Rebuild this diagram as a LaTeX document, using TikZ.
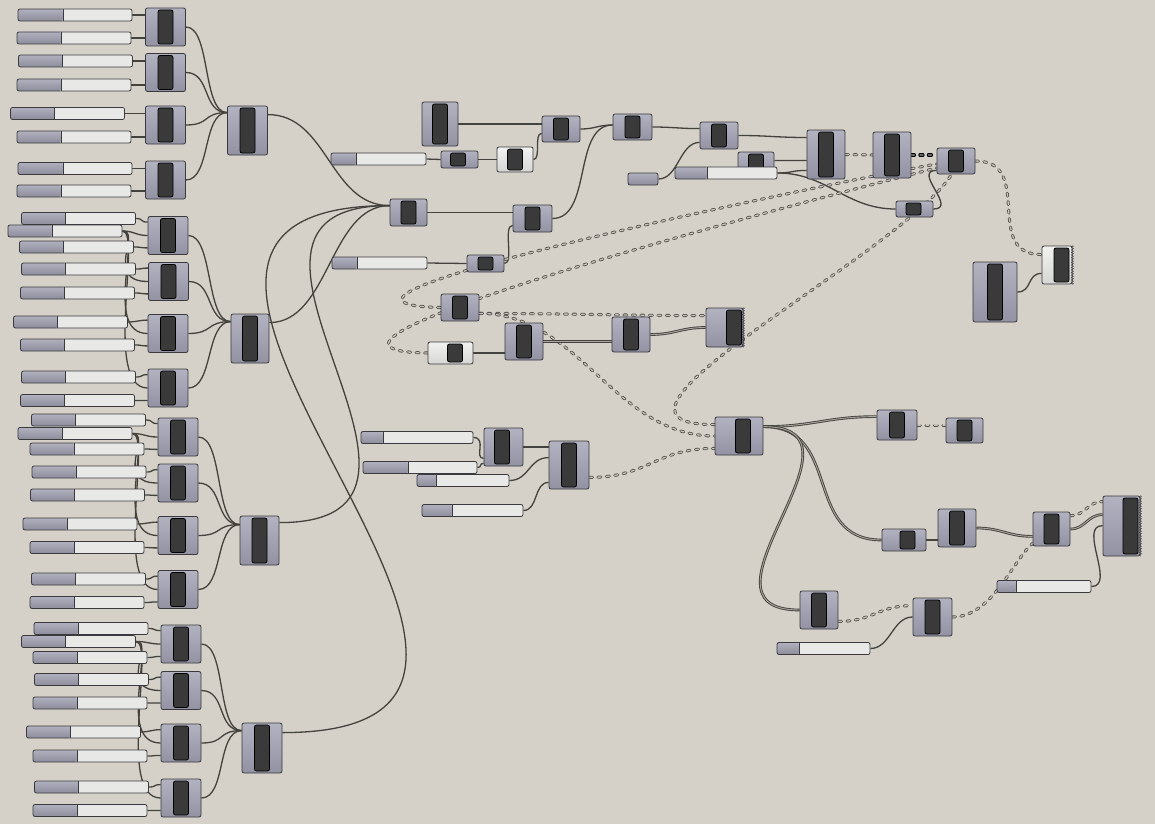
\documentclass[tikz,border=0pt]{standalone}
\usepackage{xcolor}
\usepackage{tikz}
\usetikzlibrary{positioning,calc,backgrounds,decorations.pathmorphing}

\definecolor{canvas}{RGB}{213,209,201}
\definecolor{comptop}{RGB}{178,178,193}
\definecolor{compbot}{RGB}{146,146,163}
\definecolor{paletop}{RGB}{242,242,240}
\definecolor{palebot}{RGB}{214,214,212}
\definecolor{edgegray}{RGB}{58,58,62}
\definecolor{bargray}{RGB}{58,58,58}
\definecolor{track}{RGB}{232,232,230}
\definecolor{knobtop}{RGB}{176,176,190}
\definecolor{knobbot}{RGB}{140,140,156}
\definecolor{wiregray}{RGB}{68,66,60}
\definecolor{listfill}{RGB}{170,168,160}
\definecolor{treeedge}{RGB}{78,76,70}
\definecolor{treefill}{RGB}{200,198,190}

\begin{document}
\begin{tikzpicture}[
  x=1pt, y=-1pt,
  comp/.style={rectangle, rounded corners=2pt, draw=edgegray, line width=0.8pt, top color=comptop, bottom color=compbot,
    inner sep=0pt, minimum width=40pt, minimum height=38pt,
    path picture={\draw[draw=black, line width=0.8pt, fill=bargray, rounded corners=2pt]
      ([xshift=#1pt-7.5pt, yshift=-2pt]path picture bounding box.north) rectangle ([xshift=#1pt+7.5pt, yshift=2pt]path picture bounding box.south);}},
  comp/.default=0,
  pale/.style={top color=paletop, bottom color=palebot},
  slider/.style={rectangle, rounded corners=2pt, draw=edgegray, line width=0.8pt, fill=track, inner sep=0pt,
    minimum width=114pt, minimum height=12pt,
    path picture={\shade[top color=knobtop, bottom color=knobbot] (path picture bounding box.south west) rectangle ([xshift=#1pt]path picture bounding box.north west);
      \draw[edgegray, line width=0.8pt] ([xshift=#1pt]path picture bounding box.south west) -- ([xshift=#1pt]path picture bounding box.north west);}},
  slider/.default=44,
  grip/.style={edgegray, line width=0.5pt, decorate, decoration={zigzag, segment length=2.5pt, amplitude=1pt}},
  wire/.style={draw=wiregray, line width=1.3pt},
  listwire/.style={draw=wiregray, line width=0.9pt, double=listfill, double distance=0.9pt},
  tree/.style={draw=treeedge, line width=3pt, line cap=round, dash pattern=on 3pt off 5.5pt,
    postaction={draw=treefill, line width=1.3pt, line cap=round, dash pattern=on 3pt off 5.5pt}},
  treedark/.style={draw=black, line width=3.3pt, line cap=round, dash pattern=on 3pt off 5.5pt,
    postaction={draw=black!60, line width=1.3pt, line cap=round, dash pattern=on 3pt off 5.5pt}}
]

\useasboundingbox (0,0) rectangle (1155,824);

% first group of sliders
\node[slider=45] (s1) at (75,15) {};
\node[slider] (s2) at (74,38) {};
\node[slider] (s3) at (75.5,61) {};
\node[slider] (s4) at (74,85) {};
\node[slider] (s5) at (67.5,113.5) {};
\node[slider] (s6) at (74,137) {};
\node[slider=45] (s7) at (75,168.5) {};
\node[slider] (s8) at (74,191) {};
\node[comp] (a1) at (165.5,27) {};
\node[comp] (a2) at (165.5,72.5) {};
\node[comp] (a3) at (165.5,125) {};
\node[comp] (a4) at (165.5,180) {};
\node[comp, minimum height=49pt] (a5) at (247.5,130.5) {};

% second group
\node[slider] (t1) at (78.5,218.5) {};
\node[slider] (t2) at (65,231) {};
\node[slider] (t3) at (76.5,247) {};
\node[slider] (t4) at (78.5,269) {};
\node[slider] (t5) at (77.5,293) {};
\node[slider] (t6) at (70.5,322) {};
\node[slider] (t7) at (77.5,345) {};
\node[slider] (t8) at (78.5,377) {};
\node[slider] (t9) at (77.5,400.5) {};
\node[comp] (c1) at (168,235.5) {};
\node[comp] (c2) at (168.5,281.5) {};
\node[comp] (c3) at (168,333.5) {};
\node[comp] (c4) at (168,388) {};
\node[comp, minimum width=38pt, minimum height=49pt] (c5) at (250,338.5) {};

% third group
\node[slider] (u1) at (88.5,420) {};
\node[slider] (u2) at (75,433.5) {};
\node[slider] (u3) at (87,449) {};
\node[slider] (u4) at (89,472) {};
\node[slider] (u5) at (87.5,495) {};
\node[slider] (u6) at (80,524) {};
\node[slider] (u7) at (87,547.5) {};
\node[slider] (u8) at (88.5,579) {};
\node[slider] (u9) at (87,602.5) {};
\node[comp] (d1) at (178,437) {};
\node[comp] (d2) at (178,483) {};
\node[comp] (d3) at (178,535.5) {};
\node[comp] (d4) at (178,589.5) {};
\node[comp, minimum width=39pt, minimum height=49pt] (d5) at (259.5,540.5) {};

% fourth group
\node[slider] (v1) at (91,628.5) {};
\node[slider] (v2) at (78.5,641.5) {};
\node[slider] (v3) at (90,657.5) {};
\node[slider] (v4) at (91.5,679.5) {};
\node[slider] (v5) at (90,703) {};
\node[slider] (v6) at (83.5,732) {};
\node[slider] (v7) at (90,756) {};
\node[slider] (v8) at (91.5,787) {};
\node[slider] (v9) at (90,810.5) {};
\node[comp] (e1) at (181,644) {};
\node[comp] (e2) at (181,690.5) {};
\node[comp] (e3) at (181,743) {};
\node[comp] (e4) at (181,798) {};
\node[comp, minimum height=50pt] (e5) at (262,748) {};

% top row
\node[comp, minimum width=36pt, minimum height=44pt] (f1) at (440,124) {};
\node[slider=25, minimum width=95pt] (g1) at (378.5,159) {};
\node[comp=-1.5, minimum width=37pt, minimum height=17pt] (f2) at (459.5,159.5) {};
\node[comp, pale, minimum width=36pt, minimum height=25pt] (f3) at (515,159.5) {};
\node[comp, minimum width=38pt, minimum height=26pt] (f4) at (561,129) {};
\node[comp, minimum width=37pt, minimum height=27pt] (b1) at (408.5,212.5) {};
\node[comp, minimum width=39pt, minimum height=27pt] (f5) at (532.5,218.5) {};
\node[slider=25, minimum width=95pt] (g2) at (379.5,263) {};
\node[comp, minimum width=37pt, minimum height=17pt] (f6) at (485.5,263.5) {};
\node[comp, minimum width=39pt, minimum height=26pt] (f7) at (632.5,127) {};
\node[comp, minimum width=38pt, minimum height=27pt] (f8) at (719,135.5) {};
\node[comp, minimum width=36pt, minimum height=24pt] (f9) at (756,164) {};
\node[slider=30, minimum width=30pt] (g3) at (643,179) {};
\node[slider=32, minimum width=102pt] (g4) at (726,173) {};
\node[comp, minimum width=38pt, minimum height=49pt] (f10) at (826,154.5) {};
\node[comp, minimum width=38pt, minimum height=46pt] (f11) at (892,155) {};
\node[comp, minimum width=38pt, minimum height=26pt] (f12) at (956,161) {};
\node[comp=-1, minimum width=37pt, minimum height=16pt] (f13) at (914.5,209) {};
\node[comp=4.5, pale, minimum width=30pt] (f14) at (1057,265) {};
\node[comp, minimum width=44pt, minimum height=60pt] (f15) at (995,292) {};

% middle
\node[comp, minimum width=38pt, minimum height=27pt] (k1) at (460,307.5) {};
\node[comp=4.5, pale, minimum width=45pt, minimum height=22pt] (k2) at (450.5,353) {};
\node[comp, minimum width=38pt, minimum height=37pt] (k3) at (524,341.5) {};
\node[comp, minimum width=38pt, minimum height=35pt] (k4) at (631,334.5) {};
\node[comp=9.5, minimum width=37pt, minimum height=39pt] (k5) at (724.5,327.5) {};
\node[comp=4, minimum width=48pt] (h1) at (739,436) {};
\node[slider=22, minimum width=112pt] (g7) at (417,437.5) {};
\node[slider=45] (g8) at (420,467.5) {};
\node[slider=19, minimum width=92pt] (g9) at (463,480.5) {};
\node[slider=30, minimum width=101pt] (g10) at (472.5,510.5) {};
\node[comp=-1.5, minimum width=39pt] (m1) at (503.5,447) {};
\node[comp, minimum height=48pt] (m2) at (569,465) {};

% bottom right
\node[comp, minimum height=30pt] (l1) at (897,425) {};
\node[comp, minimum width=37pt, minimum height=25pt] (l2) at (964.5,430.5) {};
\node[comp=3.5, minimum width=44pt, minimum height=22pt] (l3) at (904,540) {};
\node[comp, minimum width=38pt] (l4) at (957,528) {};
\node[comp, minimum width=37pt, minimum height=34pt] (l5) at (1051.5,529) {};
\node[comp=9, minimum width=37pt, minimum height=60pt] (l6) at (1121.5,526) {};
\node[slider=19, minimum width=94pt] (g5) at (1044,586.5) {};
\node[comp, minimum width=38pt] (l7) at (819,610) {};
\node[comp, minimum width=39pt] (l8) at (932.5,617) {};
\node[slider=22, minimum width=93pt] (g6) at (823.5,648.5) {};

\draw[grip] (f14.north east) -- (f14.south east);
\draw[grip] (k5.north east) -- (k5.south east);
\draw[grip] (l6.north east) -- (l6.south east);

\begin{scope}[on background layer]
\fill[canvas] (0,0) rectangle (1155,824);

% first group wires
\draw[wire] (s1.east) -- (a1.west |- s1.east);
\draw[wire] (s2.east) -- (a1.west |- s2.east);
\draw[wire] (s3.east) -- (a2.west |- s3.east);
\draw[wire] (s4.east) -- (a2.west |- s4.east);
\draw[wire] (s5.east) -- (a3.west |- s5.east);
\draw[wire] (s6.east) -- (a3.west |- s6.east);
\draw[wire] (s7.east) -- (a4.west |- s7.east);
\draw[wire] (s8.east) -- (a4.west |- s8.east);
\draw[wire] (a1.east) .. controls +(25,0) and +(-25,0) .. ($(a5.north west)+(0,7)$);
\draw[wire] (a2.east) .. controls +(25,0) and +(-25,0) .. ($(a5.north west)+(0,7)$);
\draw[wire] (a3.east) .. controls +(25,0) and +(-25,0) .. ($(a5.north west)+(0,7)$);
\draw[wire] (a4.east) .. controls +(25,0) and +(-25,0) .. ($(a5.north west)+(0,7)$);

% second group wires
\draw[wire] (t1.east) .. controls +(8,0) and +(-8,0) .. ($(c1.north west)+(0,6)$);
\draw[wire] (t2.east) .. controls +(12,0) and +(-12,0) .. (c1.west);
\draw[wire] (t3.east) .. controls +(8,0) and +(-8,0) .. ($(c1.south west)+(0,-7)$);
\draw[wire] (t4.east) .. controls +(8,0) and +(-8,0) .. ($(c2.north west)+(0,6)$);
\draw[wire] (t2.east) .. controls +(20,0) and +(-45,0) .. (c2.west);
\draw[wire] (t5.east) .. controls +(8,0) and +(-8,0) .. ($(c2.south west)+(0,-7)$);
\draw[wire] (t6.east) .. controls +(8,0) and +(-8,0) .. ($(c3.north west)+(0,6)$);
\draw[wire] (t2.east) .. controls +(20,0) and +(-45,0) .. (c3.west);
\draw[wire] (t7.east) .. controls +(8,0) and +(-8,0) .. ($(c3.south west)+(0,-7)$);
\draw[wire] (t8.east) .. controls +(8,0) and +(-8,0) .. ($(c4.north west)+(0,6)$);
\draw[wire] (t2.east) .. controls +(20,0) and +(-45,0) .. (c4.west);
\draw[wire] (t9.east) .. controls +(8,0) and +(-8,0) .. ($(c4.south west)+(0,-7)$);
\draw[wire] (c1.east) .. controls +(25,0) and +(-25,0) .. ($(c5.north west)+(0,8)$);
\draw[wire] (c2.east) .. controls +(25,0) and +(-25,0) .. ($(c5.north west)+(0,8)$);
\draw[wire] (c3.east) .. controls +(25,0) and +(-25,0) .. ($(c5.north west)+(0,8)$);
\draw[wire] (c4.east) .. controls +(25,0) and +(-25,0) .. ($(c5.north west)+(0,8)$);

% third group wires
\draw[wire] (u1.east) .. controls +(8,0) and +(-8,0) .. ($(d1.north west)+(0,6)$);
\draw[wire] (u2.east) .. controls +(12,0) and +(-12,0) .. (d1.west);
\draw[wire] (u3.east) .. controls +(8,0) and +(-8,0) .. ($(d1.south west)+(0,-7)$);
\draw[wire] (u4.east) .. controls +(8,0) and +(-8,0) .. ($(d2.north west)+(0,6)$);
\draw[wire] (u2.east) .. controls +(20,0) and +(-45,0) .. (d2.west);
\draw[wire] (u5.east) .. controls +(8,0) and +(-8,0) .. ($(d2.south west)+(0,-7)$);
\draw[wire] (u6.east) .. controls +(8,0) and +(-8,0) .. ($(d3.north west)+(0,6)$);
\draw[wire] (u2.east) .. controls +(20,0) and +(-45,0) .. (d3.west);
\draw[wire] (u7.east) .. controls +(8,0) and +(-8,0) .. ($(d3.south west)+(0,-7)$);
\draw[wire] (u8.east) .. controls +(8,0) and +(-8,0) .. ($(d4.north west)+(0,6)$);
\draw[wire] (u2.east) .. controls +(20,0) and +(-45,0) .. (d4.west);
\draw[wire] (u9.east) .. controls +(8,0) and +(-8,0) .. ($(d4.south west)+(0,-7)$);
\draw[wire] (d1.east) .. controls +(25,0) and +(-25,0) .. ($(d5.north west)+(0,9)$);
\draw[wire] (d2.east) .. controls +(25,0) and +(-25,0) .. ($(d5.north west)+(0,9)$);
\draw[wire] (d3.east) .. controls +(25,0) and +(-25,0) .. ($(d5.north west)+(0,9)$);
\draw[wire] (d4.east) .. controls +(25,0) and +(-25,0) .. ($(d5.north west)+(0,9)$);

% fourth group wires
\draw[wire] (v1.east) .. controls +(8,0) and +(-8,0) .. ($(e1.north west)+(0,6)$);
\draw[wire] (v2.east) .. controls +(12,0) and +(-12,0) .. (e1.west);
\draw[wire] (v3.east) .. controls +(8,0) and +(-8,0) .. ($(e1.south west)+(0,-7)$);
\draw[wire] (v4.east) .. controls +(8,0) and +(-8,0) .. ($(e2.north west)+(0,6)$);
\draw[wire] (v2.east) .. controls +(20,0) and +(-45,0) .. (e2.west);
\draw[wire] (v5.east) .. controls +(8,0) and +(-8,0) .. ($(e2.south west)+(0,-7)$);
\draw[wire] (v6.east) .. controls +(8,0) and +(-8,0) .. ($(e3.north west)+(0,6)$);
\draw[wire] (v2.east) .. controls +(20,0) and +(-45,0) .. (e3.west);
\draw[wire] (v7.east) .. controls +(8,0) and +(-8,0) .. ($(e3.south west)+(0,-7)$);
\draw[wire] (v8.east) .. controls +(8,0) and +(-8,0) .. ($(e4.north west)+(0,6)$);
\draw[wire] (v2.east) .. controls +(20,0) and +(-45,0) .. (e4.west);
\draw[wire] (v9.east) .. controls +(8,0) and +(-8,0) .. ($(e4.south west)+(0,-7)$);
\draw[wire] (e1.east) .. controls +(25,0) and +(-25,0) .. ($(e5.north west)+(0,8)$);
\draw[wire] (e2.east) .. controls +(25,0) and +(-25,0) .. ($(e5.north west)+(0,8)$);
\draw[wire] (e3.east) .. controls +(25,0) and +(-25,0) .. ($(e5.north west)+(0,8)$);
\draw[wire] (e4.east) .. controls +(25,0) and +(-25,0) .. ($(e5.north west)+(0,8)$);

% groups into b1
\draw[wire] ($(a5.north east)+(0,9)$) .. controls +(60,0) and +(-60,0) .. ($(b1.north west)+(0,7)$);
\draw[wire] ($(c5.north east)+(0,9)$) .. controls +(60,0) and +(-60,0) .. ($(b1.north west)+(0,7)$);
\draw[wire] ($(d5.north east)+(0,7)$) .. controls +(220,0) and +(-220,0) .. ($(b1.north west)+(0,7)$);
\draw[wire] ($(e5.north east)+(0,10)$) .. controls +(380,0) and +(-380,0) .. ($(b1.north west)+(0,7)$);

% top row wires
\draw[wire] (f1.east) -- (f4.west |- f1.east);
\draw[wire] (g1.east) -- (f2.west);
\draw[wire] (f2.east) -- (f3.west);
\draw[wire] (f3.east) .. controls +(8,0) and +(-8,0) .. ($(f4.south west)+(0,-9)$);
\draw[wire] (b1.east) -- (f5.west |- b1.east);
\draw[wire] (g2.east) -- (f6.west);
\draw[wire] (f6.east) .. controls +(10,0) and +(-10,0) .. ($(f5.south west)+(0,-7)$);
\draw[wire] (f4.east) .. controls +(15,0) and +(-15,0) .. ($(f7.west)+(0,-2)$);
\draw[wire] (f5.east) .. controls +(40,0) and +(-40,0) .. ($(f7.west)+(0,-2)$);
\draw[wire] (f7.east) .. controls +(20,0) and +(-20,0) .. ($(f8.north west)+(0,7)$);
\draw[wire] (g3.east) .. controls +(20,0) and +(-20,0) .. ($(f8.south west)+(0,-7)$);
\draw[wire] (f8.east) .. controls +(30,0) and +(-30,0) .. ($(f10.west)+(0,-17)$);
\draw[wire] ($(f9.north east)+(0,9)$) -- ($(f10.west)+(0,6)$);
\draw[wire] (g4.east) .. controls +(15,0) and +(-15,0) .. ($(f10.south west)+(0,-9)$);
\draw[wire] (g4.east) .. controls +(50,0) and +(-50,0) .. (f13.west);
\draw[tree] (f10.east) -- (f11.west);
\draw[treedark] (f11.east) -- (f12.west |- f11.east);
\draw[wire] (f13.east) .. controls +(25,0) and +(-25,0) .. ($(f12.south west)+(0,-4)$);
\draw[tree] (f12.east) .. controls +(60,0) and +(-60,0) .. ($(f14.north west)+(0,9)$);
\draw[wire] (f15.east) .. controls +(15,0) and +(-15,0) .. ($(f14.south west)+(0,-11)$);

% middle wires
\draw[tree] (k1.west) .. controls +(-200,-5) and +(-60,10) .. ($(f12.west)+(0,3)$);
\draw[tree] (k2.west) .. controls +(-200,-3) and +(-80,20) .. ($(f12.west)+(0,7)$);
\draw[tree] ($(k1.south east)+(0,-8)$) .. controls +(80,0) and +(-80,0) .. ($(k5.north west)+(0,8)$);
\draw[tree] ($(k1.south east)+(0,-8)$) .. controls +(100,0) and +(-100,0) .. (h1.west);
\draw[tree] ($(h1.north west)+(0,8)$) .. controls +(-155,0) and +(-50,80) .. ($(f12.south west)+(15,0)$);
\draw[wire] (k2.east) -- (k3.west |- k2.east);
\draw[listwire] (k3.east) -- (k4.west |- k3.east);
\draw[listwire] (k4.east) .. controls +(25,0) and +(-25,0) .. (k5.west);
\draw[wire] (g7.east) .. controls +(14,0) and +(-10,0) .. ($(m1.south west)+(0,-8)$);
\draw[wire] (g8.east) .. controls +(5,0) and +(-5,0) .. ($(m1.south west)+(0,-3)$);
\draw[wire] (m1.east) -- (m2.west |- m1.east);
\draw[wire] (g9.east) .. controls +(20,0) and +(-20,0) .. ($(m2.north west)+(0,17)$);
\draw[wire] (g10.east) .. controls +(15,0) and +(-15,0) .. ($(m2.south west)+(0,-7)$);
\draw[tree] ($(m2.south east)+(0,-12)$) .. controls +(60,0) and +(-60,0) .. ($(h1.south west)+(0,-7)$);

% bottom right wires
\draw[listwire] ($(h1.north east)+(0,10)$) .. controls +(50,0) and +(-50,0) .. ($(l1.north west)+(0,7)$);
\draw[listwire] ($(h1.north east)+(0,10)$) .. controls +(80,0) and +(-80,0) .. (l3.west);
\draw[listwire] ($(h1.north east)+(0,10)$) .. controls +(120,0) and +(-120,0) .. (l7.west);
\draw[tree] (l1.east) -- (l2.west |- l1.east);
\draw[wire] (l3.east) -- (l4.west |- l3.east);
\draw[listwire] (l4.east) .. controls +(25,0) and +(-25,0) .. ($(l5.south west)+(0,-10)$);
\draw[listwire] (l5.east) .. controls +(15,0) and +(-15,0) .. ($(l6.north west)+(0,19)$);
\draw[tree] ($(l5.north east)+(0,4)$) .. controls +(15,0) and +(-15,0) .. ($(l6.north west)+(0,6)$);
\draw[wire] (g5.east) .. controls +(25,0) and +(-25,0) .. ($(l6.north west)+(0,30)$);
\draw[tree] ($(l7.south east)+(0,-8)$) .. controls +(35,0) and +(-35,0) .. ($(l8.north west)+(0,8)$);
\draw[wire] (g6.east) .. controls +(20,0) and +(-20,0) .. (l8.west);
\draw[tree] (l8.east) .. controls +(40,0) and +(-20,17) .. ($(l5.south west)+(0,-3)$);
\end{scope}

\end{tikzpicture}
\end{document}
